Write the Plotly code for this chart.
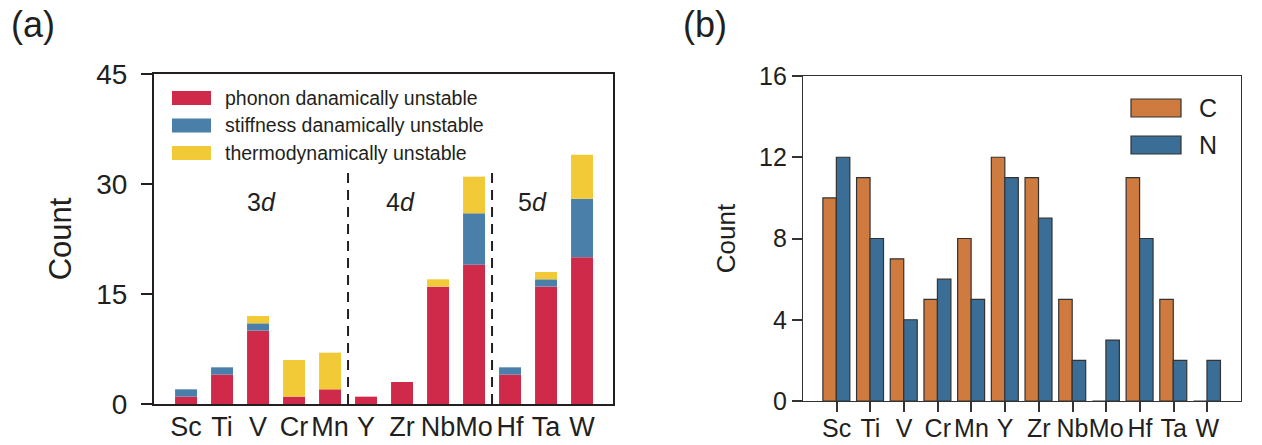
import plotly.graph_objects as go
import numpy as np

elements = ["Sc", "Ti", "V", "Cr", "Mn", "Y", "Zr", "Nb", "Mo", "Hf", "Ta", "W"]

# Panel (a): stacked counts
phonon = [1, 4, 10, 1, 2, 1, 3, 16, 19, 4, 16, 20]
stiffness = [1, 1, 1, 0, 0, 0, 0, 0, 7, 1, 1, 8]
thermo = [0, 0, 1, 5, 5, 0, 0, 1, 5, 0, 1, 6]

# Panel (b): grouped counts
count_C = [10, 11, 7, 5, 8, 12, 11, 5, 0, 11, 5, 0]
count_N = [12, 8, 4, 6, 5, 11, 9, 2, 3, 8, 2, 2]

a_ticks = [0, 15, 30, 45]
b_ticks = [0, 4, 8, 12, 16]

FONT = "Arial, Liberation Sans, sans-serif"
TXT = "#231f20"
RED = "#cf2a49"
BLUE_A = "#4a7fa9"
YEL = "#f2c937"
ORG = "#cf7a3e"
BLUE_B = "#3b6e96"

base2 = list(np.array(phonon))
base3 = list(np.array(phonon) + np.array(stiffness))

fig = go.Figure()
fig.add_trace(go.Bar(x=elements, y=phonon, marker=dict(color=RED, line=dict(width=0)),
                     width=0.61, name="phonon danamically unstable", xaxis="x", yaxis="y", showlegend=False))
fig.add_trace(go.Bar(x=elements, y=stiffness, base=base2, marker=dict(color=BLUE_A, line=dict(width=0)),
                     width=0.61, name="stiffness danamically unstable", xaxis="x", yaxis="y", showlegend=False))
fig.add_trace(go.Bar(x=elements, y=thermo, base=base3, marker=dict(color=YEL, line=dict(width=0)),
                     width=0.61, name="thermodynamically unstable", xaxis="x", yaxis="y", showlegend=False))

fig.add_trace(go.Bar(x=elements, y=count_C, width=0.4, offset=-0.41,
                     marker=dict(color=ORG, line=dict(color="#333333", width=1.2)),
                     name="C", xaxis="x2", yaxis="y2", showlegend=False))
fig.add_trace(go.Bar(x=elements, y=count_N, width=0.4, offset=-0.01,
                     marker=dict(color=BLUE_B, line=dict(color="#333333", width=1.2)),
                     name="N", xaxis="x2", yaxis="y2", showlegend=False))

shapes = []
annotations = []

# dashed separators in panel (a)
for xs in [4.5, 8.5]:
    shapes.append(dict(type="line", xref="x", yref="y", x0=xs, x1=xs, y0=0, y1=32,
                       line=dict(color=TXT, width=2, dash="10px,7px")))

# legend panel (a)
leg_a = [("phonon danamically unstable", RED), ("stiffness danamically unstable", BLUE_A),
         ("thermodynamically unstable", YEL)]
for i, (lab, col) in enumerate(leg_a):
    yc = 98 + i * 27.5
    shapes.append(dict(type="rect", xref="paper", yref="paper",
                       x0=172 / 1262, x1=211 / 1262, y0=1 - (yc + 7) / 445, y1=1 - (yc - 7) / 445,
                       fillcolor=col, line=dict(width=0)))
    annotations.append(dict(text=lab, xref="paper", yref="paper", x=223 / 1262, y=1 - yc / 445,
                            xanchor="left", yanchor="middle", showarrow=False,
                            font=dict(family=FONT, size=19.5, color=TXT)))

# legend panel (b)
leg_b = [("C", ORG), ("N", BLUE_B)]
for i, (lab, col) in enumerate(leg_b):
    yc = 108 + i * 37
    shapes.append(dict(type="rect", xref="paper", yref="paper",
                       x0=1131 / 1262, x1=1181 / 1262, y0=1 - (yc + 9) / 445, y1=1 - (yc - 9) / 445,
                       fillcolor=col, line=dict(color="#333333", width=1.2)))
    annotations.append(dict(text=lab, xref="paper", yref="paper", x=1197 / 1262, y=1 - yc / 445,
                            xanchor="left", yanchor="middle", showarrow=False,
                            font=dict(family=FONT, size=25, color=TXT)))

# group labels
for lab, xc in [("3<i>d</i>", 261), ("4<i>d</i>", 400), ("5<i>d</i>", 532)]:
    annotations.append(dict(text=lab, xref="paper", yref="paper", x=xc / 1262, y=1 - 202 / 445,
                            xanchor="center", yanchor="middle", showarrow=False,
                            font=dict(family=FONT, size=25, color=TXT)))

# panel labels
annotations.append(dict(text="(a)", xref="paper", yref="paper", x=9 / 1262, y=1 - 24 / 445,
                        xanchor="left", yanchor="middle", showarrow=False,
                        font=dict(family=FONT, size=36, color=TXT)))
annotations.append(dict(text="(b)", xref="paper", yref="paper", x=681 / 1262, y=1 - 24 / 445,
                        xanchor="left", yanchor="middle", showarrow=False,
                        font=dict(family=FONT, size=36, color=TXT)))

fig.update_layout(
    width=1262, height=445,
    margin=dict(l=0, r=0, t=0, b=0),
    paper_bgcolor="white", plot_bgcolor="white",
    barmode="overlay",
    font=dict(family=FONT, color=TXT),
    shapes=shapes, annotations=annotations,
    xaxis=dict(domain=[154 / 1262, 613 / 1262], anchor="y", type="category", automargin=False,
               range=[-0.89, 11.86], showline=True, mirror=True, linewidth=2.2, linecolor=TXT,
               ticks="", showgrid=False, zeroline=False, tickangle=0, ticklabelstandoff=-3,
               tickfont=dict(family=FONT, size=27, color=TXT)),
    yaxis=dict(domain=[(445 - 404) / 445, (445 - 74) / 445], anchor="x", automargin=False,
               range=[0, 45], tickvals=a_ticks, showline=True, mirror=True, linewidth=2.2,
               linecolor=TXT, ticks="outside", ticklen=11, tickwidth=2, tickcolor=TXT,
               showgrid=False, zeroline=False, ticklabelstandoff=8,
               tickfont=dict(family=FONT, size=28, color=TXT),
               title=dict(text="Count", font=dict(family=FONT, size=31, color=TXT))),
    xaxis2=dict(domain=[803 / 1262, 1241 / 1262], anchor="y2", type="category", automargin=False,
                range=[-1, 12], showline=True, mirror=True, linewidth=1.2, linecolor="#333333",
                ticks="outside", ticklen=10, tickwidth=1.5, tickcolor="#333333",
                showgrid=False, zeroline=False, tickangle=0, ticklabelstandoff=-5,
                tickfont=dict(family=FONT, size=25, color=TXT)),
    yaxis2=dict(domain=[(445 - 401) / 445, (445 - 76) / 445], anchor="x2", automargin=False,
                range=[0, 16], tickvals=b_ticks, showline=True, mirror=True, linewidth=1.2,
                linecolor="#333333", ticks="outside", ticklen=10, tickwidth=1.5, tickcolor="#333333",
                showgrid=False, zeroline=False,
                tickfont=dict(family=FONT, size=25, color=TXT),
                title=dict(text="Count", font=dict(family=FONT, size=26, color=TXT))),
)

fig.write_html("out.html")
